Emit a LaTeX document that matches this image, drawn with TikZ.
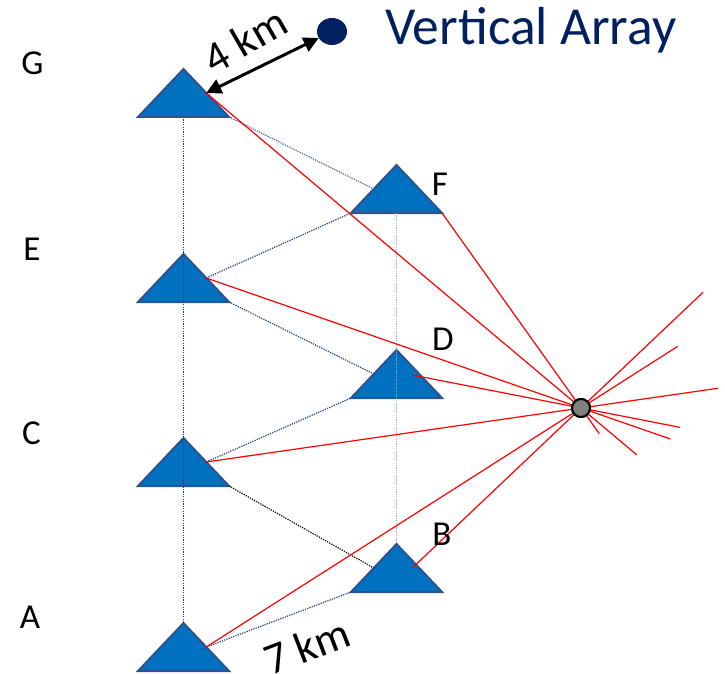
\documentclass[tikz,border=0pt]{standalone}
\usepackage{fontspec}
\setmainfont{Carlito}
\usetikzlibrary{shapes.geometric,arrows.meta,calc}
\definecolor{trifill}{RGB}{0,112,192}
\definecolor{triedge}{RGB}{47,82,143}
\definecolor{navy}{RGB}{0,32,96}
\definecolor{dotnavy}{RGB}{31,56,120}
\definecolor{dotlight}{RGB}{143,170,220}
\definecolor{dotmid}{RGB}{68,96,150}
\begin{document}
\begin{tikzpicture}[x=1pt,y=-1pt,
  station/.style={isosceles triangle, shape border rotate=90,
    isosceles triangle stretches, minimum width=91, minimum height=48,
    inner sep=0, outer sep=0, fill=trifill, draw=triedge, line width=2pt, anchor=apex},
  lbl/.style={inner sep=0, font=\fontsize{35}{40}\selectfont},
  dotline/.style={line width=1.2pt, dash pattern=on 1.2pt off 1.2pt},
  ray/.style={red, line width=1.2pt},
  kmlbl/.style={inner sep=0, font=\fontsize{44}{50}\selectfont}]
\useasboundingbox (0,0) rectangle (725,674);
% stations
\node[station] (G) at (183.5,69) {};
\node[station] (E) at (183.5,254) {};
\node[station] (C) at (183.5,438) {};
\node[station] (A) at (183.5,623) {};
\node[station] (F) at (396.5,165) {};
\node[station] (D) at (396.5,350) {};
\node[station] (B) at (396.5,544) {};
% source
\node[circle, minimum size=18, inner sep=0, fill=gray, draw=black, line width=2pt] (O) at (581,408) {};
% dotted connectors
\draw[dotline, dotnavy] (G.lower side) -- (A.apex);
\draw[dotline, dotlight] (F.lower side) -- (B.apex);
\draw[dotline, dotmid] (G.right corner) -- (F.left side);
\draw[dotline, dotnavy] (E.right side) -- (F.left corner);
\draw[dotline, dotnavy] (E.right corner) -- (D.left side);
\draw[dotline, dotnavy] (C.right side) -- (D.left corner);
\draw[dotline, black] (C.right corner) -- (B.left side);
\draw[dotline, dotnavy] (A.right side) -- (B.left corner);
% red rays
\coordinate (Dr) at ($(D.right side)+(-7,1)$);
\coordinate (Br) at ($(B.right side)+(-7,0)$);
\draw[ray] (G.right side) -- ($(G.right side)!1.149!(O.center)$);
\draw[ray] (F.right corner) -- ($(F.right corner)!1.132!(O.center)$);
\draw[ray] (E.right side) -- ($(E.right side)!1.238!(O.center)$);
\draw[ray] (Dr) -- ($(Dr)!1.587!(O.center)$);
\draw[ray] (C.right side) -- ($(C.right side)!1.366!(O.center)$);
\draw[ray] (Br) -- ($(Br)!1.723!(O.center)$);
\draw[ray] (A.right side) -- ($(A.right side)!1.258!(O.center)$);
\node[circle, minimum size=18, inner sep=0, fill=gray, draw=black, line width=2pt] at (O.center) {};
% vertical array
\node[ellipse, minimum width=30, minimum height=27, inner sep=0, fill=navy] (V) at (332,31.5) {};
\draw[line width=3pt, {Triangle[length=15pt,width=15pt]}-{Triangle[length=15pt,width=15pt]}] (G.right side) -- (V);
\node[inner sep=0, anchor=base west, text=navy, font=\fontsize{53.5}{60}\selectfont] (VA) at (385,45) {Vertical Array};
% labels
\node[lbl] (lG) at (32.5,63) {G};
\node[lbl] (lE) at (32,249) {E};
\node[lbl] (lC) at (31.5,433) {C};
\node[lbl] (lA) at (30,617) {A};
\node[lbl] (lF) at (440,184) {F};
\node[lbl] (lD) at (443,339) {D};
\node[lbl] (lB) at (442,534) {B};
\node[kmlbl, rotate=30] (k4) at (245,40) {4 km};
\node[kmlbl, rotate=21] (k7) at (307,646) {7 km};
\end{tikzpicture}
\end{document}
